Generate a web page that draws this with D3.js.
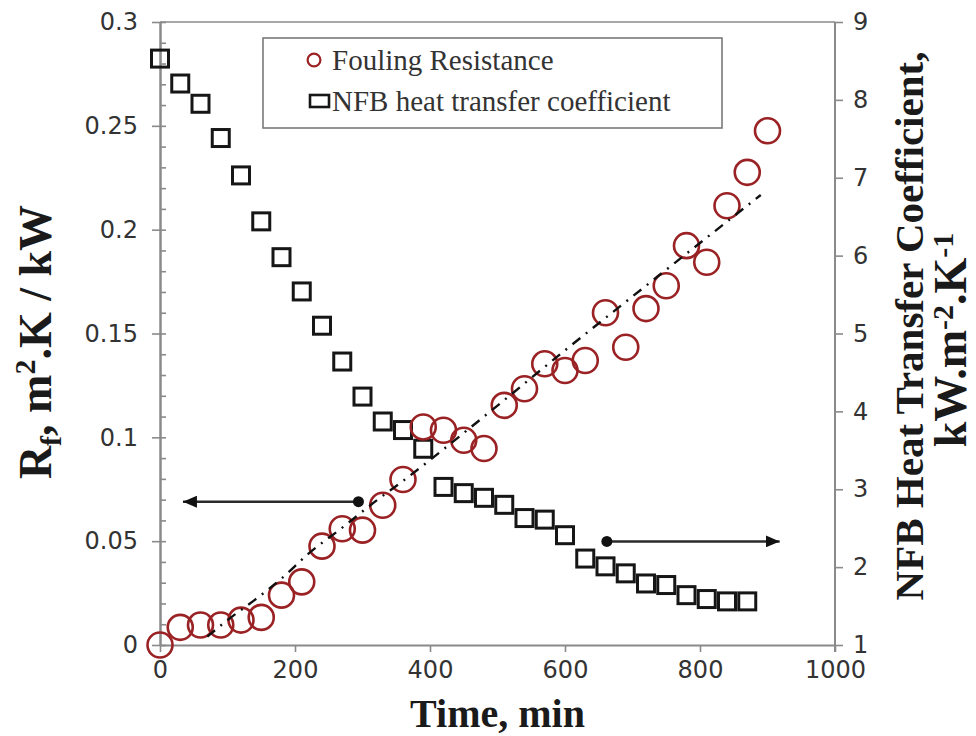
<!DOCTYPE html>
<html>
<head>
<meta charset="utf-8">
<script src="https://cdn.jsdelivr.net/npm/d3@7"></script>
<style>
  body { margin: 0; background: #ffffff; }
  svg { display: block; }
</style>
</head>
<body>
<svg id="chart" width="976" height="736"></svg>
<script>
// Sampling times (min)
const timeRf = [0, 30, 60, 90, 120, 150, 180, 210, 240, 270, 300, 330, 360, 390, 420, 450,
  480, 510, 540, 570, 600, 630, 660, 690, 720, 750, 780, 810, 840, 870, 900];
// Fouling resistance Rf (m2.K/kW)
const foulingResistance = [0, 0.0085, 0.0096, 0.0096, 0.012, 0.0133, 0.024, 0.0304, 0.0476,
  0.056, 0.0553, 0.0673, 0.0797, 0.105, 0.1034, 0.0986, 0.0946, 0.1154, 0.1234, 0.1354,
  0.1322, 0.137, 0.160, 0.1434, 0.162, 0.173, 0.1923, 0.1843, 0.2115, 0.2276, 0.2476];

const timeHtc = [0, 30, 60, 90, 120, 150, 180, 210, 240, 270, 300, 330, 360, 390, 420, 450,
  480, 510, 540, 570, 600, 630, 660, 690, 720, 750, 780, 810, 840, 870];
// NFB heat transfer coefficient (kW/m2.K)
const heatTransferCoef = [8.53, 8.21, 7.95, 7.51, 7.03, 6.44, 5.98, 5.54, 5.10, 4.64, 4.19,
  3.87, 3.76, 3.52, 3.03, 2.95, 2.89, 2.80, 2.63, 2.61, 2.41, 2.11, 2.01, 1.92, 1.79, 1.77,
  1.64, 1.59, 1.56, 1.56];

// Trend curve through the fouling data
const trendTime = [70, 100, 140, 180, 220, 270, 320, 360, 480, 600, 720, 890];
const trendRf = [0.004, 0.012, 0.0216, 0.032, 0.044, 0.0565, 0.0694, 0.079, 0.110, 0.1419, 0.173, 0.2167];

// Axis ticks
const xTicks = [0, 200, 400, 600, 800, 1000];
const leftTicks = [0, 0.05, 0.1, 0.15, 0.2, 0.25, 0.3];
const leftMinorTicks = [0, 0.01, 0.02, 0.03, 0.04, 0.05, 0.06, 0.07, 0.08, 0.09, 0.1, 0.11, 0.12,
  0.13, 0.14, 0.15, 0.16, 0.17, 0.18, 0.19, 0.2, 0.21, 0.22, 0.23, 0.24, 0.25, 0.26, 0.27, 0.28, 0.29, 0.3];
const rightTicks = [1, 2, 3, 4, 5, 6, 7, 8, 9];

// Arrows pointing to the axis each series belongs to: [start time, end time, level]
const arrowLeft = [294, 34, 0.069];
const arrowRight = [662, 918, 2.33];

const legendLabels = ["Fouling Resistance", "NFB heat transfer coefficient"];

const W = 976, H = 736;
const margin = { left: 160, right: 141, top: 22, bottom: 91 };
const svg = d3.select("#chart");

const x = d3.scaleLinear().domain([0, 1000]).range([margin.left, W - margin.right]);
const yL = d3.scaleLinear().domain([0, 0.3]).range([H - margin.bottom, margin.top]);
const yR = d3.scaleLinear().domain([1, 9]).range([H - margin.bottom, margin.top]);

const axisColor = "#8a8a8a";
const tickFont = "'DejaVu Sans', Verdana, sans-serif";
const serif = "'Liberation Serif', 'Times New Roman', serif";
const red = "#9a2224";

function styleAxis(g) {
  g.select(".domain").attr("stroke", axisColor).attr("stroke-width", 2);
  g.selectAll(".tick line").attr("stroke", axisColor).attr("stroke-width", 1.6);
  g.selectAll(".tick text").attr("fill", "#333").style("font-family", tickFont).style("font-size", "24px");
}

// top frame line
svg.append("line")
  .attr("x1", x(0)).attr("x2", x(1000))
  .attr("y1", yL(0.3)).attr("y2", yL(0.3))
  .attr("stroke", axisColor).attr("stroke-width", 1.6);

// x axis
svg.append("g")
  .attr("transform", `translate(0,${yL(0)})`)
  .call(d3.axisBottom(x).tickValues(xTicks).tickSize(7).tickSizeOuter(0).tickPadding(9).tickFormat(d3.format("d")))
  .call(styleAxis);

// left axis: minor ticks inside, major ticks crossing the line
svg.append("g")
  .attr("transform", `translate(${x(0)},0)`)
  .call(d3.axisRight(yL).tickValues(leftMinorTicks).tickSize(6).tickSizeOuter(0).tickFormat(""))
  .call(styleAxis);
svg.append("g")
  .attr("transform", `translate(${x(0)},0)`)
  .call(d3.axisLeft(yL).tickValues(leftTicks).tickSize(8).tickSizeOuter(0).tickPadding(14).tickFormat(d => String(d)))
  .call(styleAxis);

// right axis
svg.append("g")
  .attr("transform", `translate(${x(1000)},0)`)
  .call(d3.axisRight(yR).tickValues(rightTicks).tickSize(8).tickSizeOuter(0).tickPadding(10).tickFormat(d3.format("d")))
  .call(styleAxis)
  .call(g => g.select(".domain").attr("d", `M0,${yR(9)}V${yR(1) + 7}`));

// heat transfer coefficient squares
const side = 17;
svg.append("g")
  .selectAll("rect")
  .data(timeHtc.map((t, i) => [t, heatTransferCoef[i]]))
  .join("rect")
  .attr("x", d => x(d[0]) - side / 2)
  .attr("y", d => yR(d[1]) - side / 2)
  .attr("width", side).attr("height", side)
  .attr("fill", "none").attr("stroke", "#161616").attr("stroke-width", 3);

// fouling resistance circles
svg.append("g")
  .selectAll("circle")
  .data(timeRf.map((t, i) => [t, foulingResistance[i]]))
  .join("circle")
  .attr("cx", d => x(d[0]))
  .attr("cy", d => yL(d[1]))
  .attr("r", 12.5)
  .attr("fill", "none").attr("stroke", red).attr("stroke-width", 2.6);

// trend curve (dash-dot)
svg.append("path")
  .datum(trendTime.map((t, i) => [t, trendRf[i]]))
  .attr("d", d3.line().x(d => x(d[0])).y(d => yL(d[1])).curve(d3.curveMonotoneX))
  .attr("fill", "none").attr("stroke", "#111").attr("stroke-width", 2.4)
  .attr("stroke-dasharray", "10,7,2,7");

// arrows
const defs = svg.append("defs");
defs.append("marker")
  .attr("id", "head").attr("viewBox", "0 0 14 12")
  .attr("refX", 14).attr("refY", 6)
  .attr("markerWidth", 14).attr("markerHeight", 12)
  .attr("markerUnits", "userSpaceOnUse").attr("orient", "auto")
  .append("path").attr("d", "M0,0L14,6L0,12Z").attr("fill", "#111");

function arrow(spec, yScale) {
  const [t0, t1, v] = spec;
  svg.append("line")
    .attr("x1", x(t0)).attr("x2", x(t1))
    .attr("y1", yScale(v)).attr("y2", yScale(v))
    .attr("stroke", "#2a2a2a").attr("stroke-width", 2.4)
    .attr("marker-end", "url(#head)");
  svg.append("circle")
    .attr("cx", x(t0)).attr("cy", yScale(v)).attr("r", 5.5).attr("fill", "#111");
}
arrow(arrowLeft, yL);
arrow(arrowRight, yR);

// legend
const lg = svg.append("g");
lg.append("rect")
  .attr("x", 263).attr("y", 38).attr("width", 459).attr("height", 90)
  .attr("fill", "#fff").attr("stroke", "#7a7a7a").attr("stroke-width", 1.6);
lg.append("circle").attr("cx", 314).attr("cy", 60).attr("r", 6.4)
  .attr("fill", "none").attr("stroke", red).attr("stroke-width", 2.2);
lg.append("rect").attr("x", 310).attr("y", 95).attr("width", 19).attr("height", 12)
  .attr("fill", "none").attr("stroke", "#161616").attr("stroke-width", 2.6);
lg.selectAll("text")
  .data(legendLabels)
  .join("text")
  .attr("x", 332)
  .attr("y", (d, i) => 60 + i * 41)
  .attr("dy", "0.33em")
  .attr("fill", "#333")
  .style("font-family", serif)
  .style("font-size", "29px")
  .text(d => d);

// axis titles
svg.append("text")
  .attr("x", (x(0) + x(1000)) / 2).attr("y", 727)
  .attr("text-anchor", "middle")
  .style("font-family", serif).style("font-weight", "bold").style("font-size", "40px")
  .attr("fill", "#1a1a1a")
  .text("Time, min");

const leftTitle = svg.append("text")
  .attr("transform", "translate(51,342) rotate(-90)")
  .attr("text-anchor", "middle")
  .style("font-family", serif).style("font-weight", "bold").style("font-size", "46px")
  .attr("fill", "#1a1a1a");
leftTitle.append("tspan").text("R");
leftTitle.append("tspan").attr("dy", 10).style("font-size", "30px").text("f");
leftTitle.append("tspan").attr("dy", -10).text(", m");
leftTitle.append("tspan").attr("dy", -16).style("font-size", "30px").text("2");
leftTitle.append("tspan").attr("dy", 16).text(".K / kW");

const rightTitle = svg.append("g")
  .attr("transform", "translate(923,326) rotate(-90)");
rightTitle.append("text")
  .attr("text-anchor", "middle")
  .style("font-family", serif).style("font-weight", "bold").style("font-size", "41px")
  .attr("fill", "#1a1a1a")
  .text("NFB Heat Transfer Coefficient,");
const rt2 = rightTitle.append("text")
  .attr("y", 43)
  .attr("x", -14)
  .attr("text-anchor", "middle")
  .style("font-family", serif).style("font-weight", "bold").style("font-size", "46px")
  .attr("fill", "#1a1a1a");
rt2.append("tspan").text("kW.m");
rt2.append("tspan").attr("dy", -13).style("font-size", "30px").text("-2");
rt2.append("tspan").attr("dy", 13).text(".K");
rt2.append("tspan").attr("dy", -13).style("font-size", "30px").text("-1");
</script>
</body>
</html>
